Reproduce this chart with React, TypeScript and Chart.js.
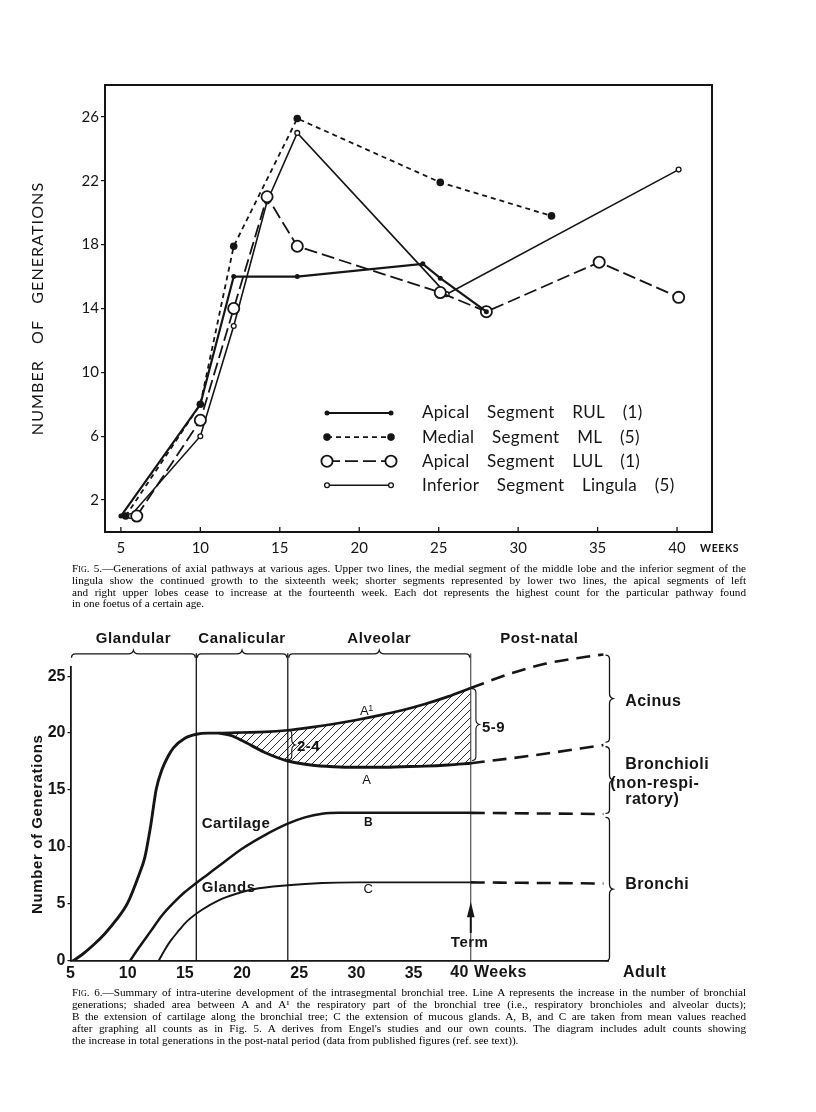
import React, { useEffect, useRef } from 'react';
import { Chart, registerables } from 'chart.js';
Chart.register(...registerables);

const INK = '#151515';

// ---------- Fig. 5 data ----------
const fig5XTicks = [5, 10, 15, 20, 25, 30, 35, 40];
const fig5YTicks = [2, 6, 10, 14, 18, 22, 26];

const rulWeeks = [5, 10, 12.1, 16.1, 24, 25.1, 28];
const rulGen = [1, 8, 16, 16, 16.8, 15.9, 13.8];
const mlWeeks = [5.3, 10, 12.1, 16.1, 25.1, 32.1];
const mlGen = [1, 8, 17.9, 25.9, 21.9, 19.8];
const lulWeeks = [6, 10, 12.1, 14.2, 16.1, 25.1, 28, 35.1, 40.1];
const lulGen = [1, 7, 14, 21, 17.9, 15, 13.8, 16.9, 14.7];
const lingWeeks = [5.6, 10, 12.1, 14.2, 16.1, 25.5, 40.1];
const lingGen = [1, 6, 12.9, 20.7, 25, 14.9, 22.7];

const fig5Labels = [
  'Apical Segment RUL (1)',
  'Medial Segment ML (5)',
  'Apical Segment LUL (1)',
  'Inferior Segment Lingula (5)',
];

const fig5Caption = [
  ' 5.—Generations of axial pathways at various ages.  Upper two lines, the medial segment of the middle lobe and the inferior segment of the',
  'lingula show the continued growth to the sixteenth week; shorter segments represented by lower two lines, the apical segments of left',
  'and right upper lobes cease to increase at the fourteenth week.  Each dot represents the highest count for the particular pathway found',
  'in one foetus of a certain age.',
];

// ---------- Fig. 6 data ----------
const fig6XTicks = [5, 10, 15, 20, 25, 30, 35, 40];
const fig6YTicks = [0, 5, 10, 15, 20, 25];

const aRiseWeeks = [5.2, 6, 7, 8, 9, 10, 11, 11.5, 12, 12.5, 13, 13.5, 14, 15, 16, 17, 18];
const aRiseGen = [0, 0.55, 1.4, 2.4, 3.6, 5.1, 7.6, 9.1, 11.8, 15.1, 16.8, 17.9, 18.7, 19.55, 19.9, 20, 20];
const respWeeks = [18, 19, 20, 22, 24, 26, 28, 30, 32, 34, 36, 38, 40];
const a1Gen = [20, 20.02, 20.05, 20.1, 20.25, 20.5, 20.8, 21.15, 21.55, 22.0, 22.55, 23.2, 23.95];
const aGen = [20, 19.8, 19.35, 18.3, 17.55, 17.2, 17.05, 17.0, 17.0, 17.05, 17.1, 17.2, 17.35];
const cartWeeks = [10.2, 11, 12, 13, 14, 15, 16, 17, 18, 20, 22, 24, 25.5, 27, 28.5, 40];
const cartGen = [0, 1.2, 2.6, 4.0, 5.1, 6.05, 6.85, 7.6, 8.35, 9.85, 11.05, 12.05, 12.6, 12.92, 13, 13];
const glandWeeks = [12.7, 13.2, 13.7, 14.5, 15.2, 16.5, 18, 19.5, 21, 24, 27, 30, 40];
const glandGen = [0, 0.9, 1.7, 2.7, 3.5, 4.5, 5.35, 5.9, 6.3, 6.65, 6.85, 6.9, 6.9];
const postA1Weeks = [40, 43.4, 46.6, 50.1, 51.6];
const postA1Gen = [23.95, 25.2, 26.1, 26.7, 26.9];
const postAWeeks = [40, 45.5, 51.6];
const postAGen = [17.35, 18.05, 18.95];
const postBWeeks = [40, 51.6];
const postBGen = [13, 12.9];
const postCWeeks = [40, 51.6];
const postCGen = [6.9, 6.8];
const phaseBounds = [5, 16, 24, 40, 52];
const phaseNames = ['Glandular', 'Canalicular', 'Alveolar', 'Post-natal'];

const fig6Caption = [
  ' 6.—Summary of intra-uterine development of the intrasegmental bronchial tree.  Line A represents the increase in the number of bronchial',
  'generations; shaded area between A and A¹ the respiratory part of the bronchial tree (i.e., respiratory bronchioles and alveolar ducts);',
  'B the extension of cartilage along the bronchial tree; C the extension of mucous glands.  A, B, and C are taken from mean values reached',
  "after graphing all counts as in Fig. 5.    A derives from Engel's studies and our own counts.   The diagram includes adult counts showing",
  'the increase in total generations in the post-natal period (data from published figures (ref. see text)).',
];

const pts = (xs: number[], ys: number[]) => xs.map((x, i) => ({ x, y: ys[i] }));

// ---------- Fig. 5 decorations ----------
const deco5 = {
  id: 'deco5',
  afterDraw(chart: any) {
    const { ctx, chartArea: a, scales } = chart;
    const xs = scales.x;
    ctx.save();
    ctx.strokeStyle = INK;
    ctx.fillStyle = INK;
    ctx.lineWidth = 2;
    ctx.strokeRect(a.left, a.top, a.right - a.left, a.bottom - a.top);
    ctx.lineWidth = 1.3;
    for (const v of fig5XTicks) {
      const px = xs.getPixelForValue(v);
      ctx.beginPath();
      ctx.moveTo(px, a.bottom);
      ctx.lineTo(px, a.bottom - 5);
      ctx.stroke();
    }
    // y title
    ctx.save();
    ctx.translate(a.left - 67, (a.top + a.bottom) / 2);
    ctx.rotate(-Math.PI / 2);
    ctx.font = '16px Lato, "DejaVu Sans", sans-serif';
    (ctx as any).letterSpacing = '1.1px';
    (ctx as any).wordSpacing = '11px';
    ctx.textAlign = 'center';
    ctx.textBaseline = 'middle';
    ctx.fillText('NUMBER OF GENERATIONS', 0, 0);
    ctx.restore();
    // WEEKS
    ctx.font = 'bold 10.5px Lato, sans-serif';
    (ctx as any).letterSpacing = '0.6px';
    ctx.textAlign = 'left';
    ctx.textBaseline = 'middle';
    ctx.fillText('WEEKS', xs.getPixelForValue(41.45), a.bottom + 17);
    (ctx as any).letterSpacing = '0px';
    // legend
    const ds = chart.data.datasets;
    for (let i = 0; i < ds.length; i++) {
      const d = ds[i];
      const yr = a.top + 328 + 24.1 * i;
      const x1 = a.left + 222;
      const x2 = a.left + 286;
      ctx.save();
      ctx.setLineDash(d.borderDash || []);
      ctx.lineWidth = d.borderWidth;
      ctx.strokeStyle = INK;
      ctx.beginPath();
      ctx.moveTo(x1, yr);
      ctx.lineTo(x2, yr);
      ctx.stroke();
      ctx.setLineDash([]);
      for (const px of [x1, x2]) {
        ctx.beginPath();
        ctx.arc(px, yr, d.pointRadius, 0, Math.PI * 2);
        ctx.fillStyle = d.pointBackgroundColor;
        ctx.fill();
        if (d.pointBorderWidth > 0) {
          ctx.lineWidth = d.pointBorderWidth;
          ctx.strokeStyle = INK;
          ctx.stroke();
        }
      }
      ctx.restore();
      ctx.font = '17px Lato, "DejaVu Sans", sans-serif';
      (ctx as any).wordSpacing = '13px';
      (ctx as any).letterSpacing = '0.3px';
      ctx.fillStyle = INK;
      ctx.textAlign = 'left';
      ctx.textBaseline = 'middle';
      ctx.fillText(d.label, a.left + 317, yr);
    }
    ctx.restore();
  },
};

function Fig5() {
  const ref = useRef<HTMLCanvasElement>(null);
  useEffect(() => {
    const canvas = ref.current!;
    const chart = new Chart(canvas, {
      type: 'line',
      data: {
        datasets: [
          {
            label: fig5Labels[0], data: pts(rulWeeks, rulGen), borderColor: INK, borderWidth: 2.2,
            pointRadius: 2.5, pointBackgroundColor: INK, pointBorderColor: INK, pointBorderWidth: 0,
          },
          {
            label: fig5Labels[1], data: pts(mlWeeks, mlGen), borderColor: INK, borderWidth: 1.8, borderDash: [5, 4],
            pointRadius: 3.8, pointBackgroundColor: INK, pointBorderColor: INK, pointBorderWidth: 0,
          },
          {
            label: fig5Labels[2], data: pts(lulWeeks, lulGen), borderColor: INK, borderWidth: 1.8, borderDash: [13, 5],
            pointRadius: 5.6, pointBackgroundColor: '#ffffff', pointBorderColor: INK, pointBorderWidth: 1.8,
          },
          {
            label: fig5Labels[3], data: pts(lingWeeks, lingGen), borderColor: INK, borderWidth: 1.6,
            pointRadius: 2.4, pointBackgroundColor: '#ffffff', pointBorderColor: INK, pointBorderWidth: 1.3,
          },
        ] as any,
      },
      options: {
        responsive: false,
        animation: false,
        devicePixelRatio: 1,
        events: [],
        layout: { padding: { left: 55, top: 85, right: 104, bottom: 48 } },
        plugins: { legend: { display: false }, tooltip: { enabled: false } },
        scales: {
          x: {
            type: 'linear', min: 4, max: 42.2,
            afterBuildTicks: (s: any) => { s.ticks = fig5XTicks.map((v) => ({ value: v })); },
            afterFit: (s: any) => { s.height = 40; },
            grid: { display: false, tickLength: 0 },
            border: { display: false },
            ticks: { autoSkip: false, maxRotation: 0, padding: 7, color: INK, font: { family: 'Lato', size: 15 } },
          },
          y: {
            type: 'linear', min: 0, max: 28,
            afterBuildTicks: (s: any) => { s.ticks = fig5YTicks.map((v) => ({ value: v })); },
            afterFit: (s: any) => { s.width = 50; },
            grid: { drawOnChartArea: false, tickLength: 4, color: INK, lineWidth: 1.2 },
            border: { display: false },
            ticks: { autoSkip: false, padding: 2, color: INK, font: { family: 'Lato', size: 15 } },
          },
        },
      } as any,
      plugins: [deco5],
    });
    return () => chart.destroy();
  }, []);
  return <canvas ref={ref} width={816} height={620} style={{ position: 'absolute', left: 0, top: 0 }} />;
}

// ---------- Fig. 6 decorations ----------
function hBrace(ctx: CanvasRenderingContext2D, x1: number, x2: number, yb: number) {
  const m = (x1 + x2) / 2;
  ctx.beginPath();
  ctx.moveTo(x1, yb + 4);
  ctx.quadraticCurveTo(x1, yb, x1 + 4, yb);
  ctx.lineTo(m - 5, yb);
  ctx.quadraticCurveTo(m - 1, yb, m, yb - 3.5);
  ctx.quadraticCurveTo(m + 1, yb, m + 5, yb);
  ctx.lineTo(x2 - 4, yb);
  ctx.quadraticCurveTo(x2, yb, x2, yb + 4);
  ctx.stroke();
}
function vBrace(ctx: CanvasRenderingContext2D, xb: number, y1: number, y2: number) {
  const m = (y1 + y2) / 2;
  ctx.beginPath();
  ctx.moveTo(xb - 4, y1);
  ctx.quadraticCurveTo(xb, y1, xb, y1 + 4);
  ctx.lineTo(xb, m - 5);
  ctx.quadraticCurveTo(xb, m - 1, xb + 3.5, m);
  ctx.quadraticCurveTo(xb, m + 1, xb, m + 5);
  ctx.lineTo(xb, y2 - 4);
  ctx.quadraticCurveTo(xb, y2, xb - 4, y2);
  ctx.stroke();
}

const BOLD = (s: number) => `bold ${s}px "Liberation Sans", Arial, sans-serif`;

const deco6 = {
  id: 'deco6',
  afterDraw(chart: any) {
    const { ctx, chartArea: a, scales } = chart;
    const X = (v: number) => scales.x.getPixelForValue(v);
    const Y = (v: number) => scales.y.getPixelForValue(v);
    ctx.save();
    ctx.strokeStyle = INK;
    ctx.fillStyle = INK;
    ctx.lineWidth = 1.3;
    // phase braces and names
    const yb = Y(27) + 0.5;
    for (let i = 0; i < 3; i++) hBrace(ctx, X(phaseBounds[i]) + 1, X(phaseBounds[i + 1]) - 1, yb);
    ctx.font = BOLD(15);
    (ctx as any).letterSpacing = '0.6px';
    ctx.textAlign = 'center';
    ctx.textBaseline = 'middle';
    for (let i = 0; i < 4; i++) {
      ctx.fillText(phaseNames[i], (X(phaseBounds[i]) + X(phaseBounds[i + 1])) / 2, yb - 15);
    }
    // right braces
    const xr = X(52) + 1.5;
    vBrace(ctx, xr, Y(26.85), Y(19.2));
    vBrace(ctx, xr, Y(18.8), Y(12.95));
    vBrace(ctx, xr, Y(12.6), Y(0));
    // inner braces
    ctx.lineWidth = 1.1;
    vBrace(ctx, X(40.45), Y(23.9), Y(17.6));
    vBrace(ctx, X(24.35), Y(20.25), Y(17.65));

    const txt = (s: string, xv: number, py: number, align: CanvasTextAlign, font: string) => {
      ctx.font = font;
      ctx.textAlign = align;
      ctx.fillText(s, X(xv), py);
    };
    ctx.textBaseline = 'middle';
    (ctx as any).letterSpacing = '0.5px';
    txt('Acinus', 53.5, Y(22.8), 'left', BOLD(16));
    txt('Bronchioli', 53.5, Y(17.2), 'left', BOLD(16));
    txt('(non-respi-', 52.2, Y(15.6), 'left', BOLD(16));
    txt('ratory)', 53.5, Y(14.2), 'left', BOLD(16));
    txt('Bronchi', 53.5, Y(6.67), 'left', BOLD(16));
    txt('Cartilage', 16.47, Y(12.02), 'left', BOLD(15));
    txt('Glands', 16.47, Y(6.4), 'left', BOLD(15));
    txt('2-4', 24.8, Y(18.8), 'left', BOLD(15));
    txt('5-9', 40.98, Y(20.5), 'left', BOLD(15));
    txt('Term', 39.9, Y(1.58), 'center', BOLD(15));
    txt('40 Weeks', 38.2, a.bottom + 12, 'left', BOLD(16));
    txt('Adult', 55.2, a.bottom + 12, 'center', BOLD(16));
    (ctx as any).letterSpacing = '0px';
    const thin = '13px "Liberation Sans", Arial, sans-serif';
    txt('A', 30.7, Y(21.88), 'center', thin);
    txt('1', 31.25, Y(22.2), 'center', '9px "Liberation Sans", Arial, sans-serif');
    txt('A', 30.9, Y(15.88), 'center', thin);
    txt('B', 31.04, Y(12.14), 'center', 'bold 12px "Liberation Sans", Arial, sans-serif');
    txt('C', 31.04, Y(6.29), 'center', thin);

    // Term arrow
    const ax = X(40);
    ctx.lineWidth = 2;
    ctx.beginPath();
    ctx.moveTo(ax, Y(2.46));
    ctx.lineTo(ax, Y(4.0));
    ctx.stroke();
    ctx.beginPath();
    ctx.moveTo(ax, Y(5.2));
    ctx.lineTo(ax - 3.8, Y(3.85));
    ctx.lineTo(ax + 3.8, Y(3.85));
    ctx.closePath();
    ctx.fill();

    // y title
    ctx.save();
    ctx.translate(a.left - 32.5, Y(12));
    ctx.rotate(-Math.PI / 2);
    ctx.font = BOLD(15);
    (ctx as any).letterSpacing = '0.6px';
    ctx.textAlign = 'center';
    ctx.textBaseline = 'middle';
    ctx.fillText('Number of Generations', 0, 0);
    ctx.restore();
    ctx.restore();
  },
};

function Fig6() {
  const ref = useRef<HTMLCanvasElement>(null);
  useEffect(() => {
    const canvas = ref.current!;
    const pc = document.createElement('canvas');
    pc.width = 8;
    pc.height = 8;
    const p = pc.getContext('2d')!;
    p.strokeStyle = INK;
    p.lineWidth = 0.9;
    p.beginPath();
    p.moveTo(0, 8); p.lineTo(8, 0);
    p.moveTo(-2, 2); p.lineTo(2, -2);
    p.moveTo(6, 10); p.lineTo(10, 6);
    p.stroke();
    const pattern = canvas.getContext('2d')!.createPattern(pc, 'repeat');

    const curve = (label: string, xs: number[], ys: number[], extra: any) => ({
      label, data: pts(xs, ys), borderColor: INK, pointRadius: 0, borderWidth: 2.6,
      cubicInterpolationMode: 'monotone', fill: false, ...extra,
    });
    const vline = (v: number, w: number) => ({
      label: 'phase ' + v, data: [{ x: v, y: 0 }, { x: v, y: 27 }], borderColor: INK, borderWidth: w,
      pointRadius: 0, fill: false, clip: false,
    });
    const dash = { borderDash: [14, 8], borderWidth: 2.6, clip: false };

    const chart = new Chart(canvas, {
      type: 'line',
      data: {
        datasets: [
          curve('A', aRiseWeeks, aRiseGen, { borderWidth: 2.9 }),
          curve('A¹', respWeeks, a1Gen, { fill: 2, backgroundColor: pattern, borderWidth: 2.7 }),
          curve('A', respWeeks, aGen, { borderWidth: 2.9 }),
          curve('B', cartWeeks, cartGen, { borderWidth: 2.5 }),
          curve('C', glandWeeks, glandGen, { borderWidth: 1.9 }),
          curve('A¹ adult', postA1Weeks, postA1Gen, dash),
          curve('A adult', postAWeeks, postAGen, dash),
          curve('B adult', postBWeeks, postBGen, dash),
          curve('C adult', postCWeeks, postCGen, dash),
          vline(16, 1.3),
          vline(24, 1.3),
          vline(40, 0.9),
        ] as any,
      },
      options: {
        responsive: false,
        animation: false,
        devicePixelRatio: 1,
        events: [],
        layout: { padding: { left: 30.5, top: 47, right: 208, bottom: 9 } },
        plugins: { legend: { display: false }, tooltip: { enabled: false } },
        scales: {
          x: {
            type: 'linear', min: 5, max: 52,
            afterBuildTicks: (s: any) => { s.ticks = fig6XTicks.map((v) => ({ value: v })); },
            afterFit: (s: any) => { s.height = 30; },
            grid: { display: false, tickLength: 0 },
            border: { display: true, color: INK, width: 1.8 },
            ticks: {
              autoSkip: false, maxRotation: 0, padding: 3, color: INK,
              font: { family: 'Liberation Sans', size: 16, weight: 'bold' },
              callback: (v: any) => (v === 40 ? '' : String(v)),
            },
          },
          y: {
            type: 'linear', min: 0, max: 25.8,
            afterBuildTicks: (s: any) => { s.ticks = fig6YTicks.map((v) => ({ value: v })); },
            afterFit: (s: any) => { s.width = 40; },
            grid: { drawOnChartArea: false, tickLength: 3, color: INK, lineWidth: 1.2 },
            border: { display: true, color: INK, width: 1.8 },
            ticks: { autoSkip: false, padding: 2, color: INK, font: { family: 'Liberation Sans', size: 16, weight: 'bold' } },
          },
        },
      } as any,
      plugins: [deco6],
    });
    return () => chart.destroy();
  }, []);
  return <canvas ref={ref} width={816} height={380} style={{ position: 'absolute', left: 0, top: 620 }} />;
}

function Caption({ lines, top, lh }: { lines: string[]; top: number; lh: number }) {
  return (
    <div
      style={{
        position: 'absolute', left: 72, top, width: 674, color: '#000',
        fontFamily: '"Liberation Serif", "Times New Roman", serif', fontSize: 11.2, lineHeight: lh + 'px',
      }}
    >
      {lines.map((l, i) => {
        const last = i === lines.length - 1;
        return (
          <div key={i} style={{ whiteSpace: 'nowrap', textAlign: last ? 'left' : 'justify', textAlignLast: last ? 'left' : 'justify' } as any}>
            {i === 0 ? <span style={{ fontVariant: 'small-caps' }}>Fig.</span> : null}
            {l}
          </div>
        );
      })}
    </div>
  );
}

export default function App() {
  return (
    <div style={{ position: 'absolute', left: 0, top: 0, width: 816, height: 1112, background: '#ffffff' }}>
      <Fig5 />
      <Fig6 />
      <Caption lines={fig5Caption} top={563} lh={11.8} />
      <Caption lines={fig6Caption} top={986} lh={12} />
    </div>
  );
}
